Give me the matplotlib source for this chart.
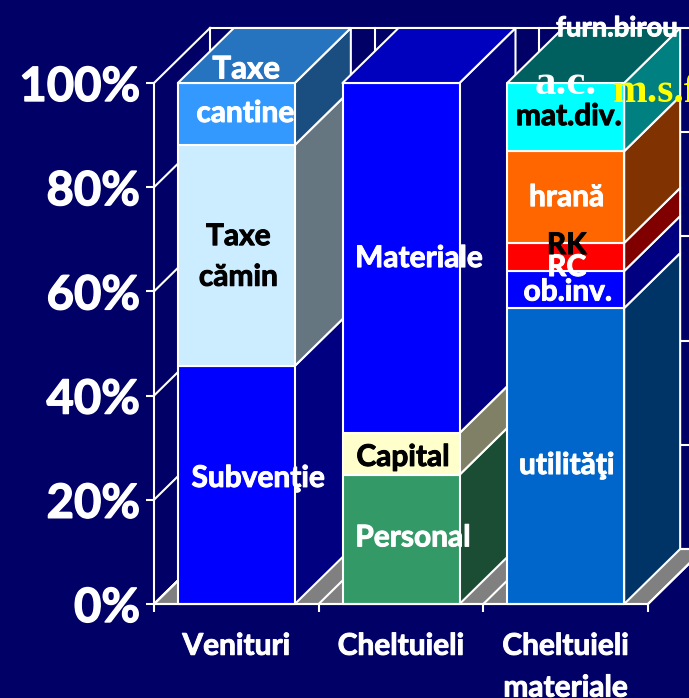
import matplotlib
matplotlib.use("Agg")
import matplotlib.pyplot as plt
from matplotlib.patches import Polygon
from matplotlib.ticker import FuncFormatter
import matplotlib.patheffects as pe

categories = ["Venituri", "Cheltuieli", "Cheltuieli\nmateriale"]
seg_venituri = [45.7, 42.4, 11.9]
seg_cheltuieli = [24.8, 8.0, 67.2]
seg_materiale = [56.8, 7.1, 5.4, 17.6, 13.1]
values = [seg_venituri, seg_cheltuieli, seg_materiale]
front_colors = [["#0000FF", "#CCECFF", "#3399FF"],
                ["#339966", "#FFFFCC", "#0000FF"],
                ["#0066CC", "#0000FF", "#FF0000", "#FF6600", "#00FFFF"]]
top_colors = ["#2673BF", "#0000BF", "#006060"]
seg_labels = [["Subvenţie", "Taxe\ncămin", "cantine"],
              ["Personal", "Capital", "Materiale"],
              ["utilităţi", "ob.inv.", "RC", "hrană", "mat.div."]]
seg_text_colors = [["white", "black", "white"],
                   ["white", "black", "white"],
                   ["white", "white", "white", "white", "black"]]

BG = "#000066"
FONT = "Lato"
plt.rcParams["font.family"] = [FONT, "DejaVu Sans"]
plt.rcParams["font.weight"] = "bold"

W, H = 689, 698
fig = plt.figure(figsize=(W / 100, H / 100), dpi=100, facecolor=BG)
ax = fig.add_axes([154 / W, (H - 604) / H, 494 / W, 521 / H], facecolor="none")
ax.set_xlim(0, 3)
ax.set_ylim(0, 100)

DX = 56 / (494 / 3)
DY = 55 / 5.21
BW = 117 / (494 / 3)
LW = 1.5
FS = 21.5


def darker(c, f=0.5):
    r, g, b = matplotlib.colors.to_rgb(c)
    return (r * f, g * f, b * f)


def poly(pts, color, z=2):
    ax.add_patch(Polygon(pts, closed=True, facecolor=color, edgecolor="white",
                         lw=LW, clip_on=False, zorder=z, joinstyle="round"))


def line(xs, ys, z=1):
    ax.plot(xs, ys, color="white", lw=LW, clip_on=False, zorder=z)


def heavy(col, w=0.7):
    return [pe.withStroke(linewidth=w, foreground=col)]


# floor and walls
poly([(0, 0), (3, 0), (3 + DX, DY), (DX, DY)], "#808080", 1)
ticks_y = [0, 20, 40, 60, 80, 100]
for t in ticks_y:
    line([0, DX], [t, t + DY])
    line([DX, 3 + DX], [t + DY, t + DY])
for c in range(4):
    line([c + DX, c + DX], [DY, 100 + DY])
    line([c, c + DX], [0, DY])

# stacked boxes
for i, segs in enumerate(values):
    x0 = i + 0.5 - BW / 2
    x1 = x0 + BW
    base = 0
    for v, col in zip(segs, front_colors[i]):
        top = base + v
        poly([(x1, base), (x1 + DX, base + DY), (x1 + DX, top + DY), (x1, top)], darker(col), 2 + i)
        poly([(x0, base), (x1, base), (x1, top), (x0, top)], col, 2 + i)
        base = top
    poly([(x0, 100), (x1, 100), (x1 + DX, 100 + DY), (x0 + DX, 100 + DY)], top_colors[i], 2 + i)

# segment labels: nudges in pixels from the segment centre
nudges = [[(22, 7), (2, -1), (9, 1)],
          [(12, 2), (2, -3), (18, 0)],
          [(1, -9), (2, -2), (1, -10), (1, 0), (3, 1)]]
spacing = 1.55
for i, segs in enumerate(values):
    base = 0
    for j, v in enumerate(segs):
        col = seg_text_colors[i][j]
        ax.annotate(seg_labels[i][j], (i + 0.5, base + v / 2), xytext=nudges[i][j],
                    textcoords="offset pixels", ha="center", va="center",
                    color=col, fontsize=FS, fontweight="bold",
                    zorder=10, annotation_clip=False, linespacing=spacing,
                    path_effects=heavy(col))
        base += v

# labels for the thin top items
extra = [("Taxe", 0, 102.6, 10, "white", FS + 1, FONT, "center", "bold"),
         ("RK", 2, 68.9, 1, "black", FS, FONT, "center", "bold"),
         ("furn.birou", 2, 110.5, 51, "white", FS * 0.92, FONT, "center", "bold"),
         ("a.c.", 2, 99.8, 0, "white", 31, "Liberation Serif", "center", "bold"),
         ("m.s.f", 2, 98.3, 47, "#FFFF00", 30, "Liberation Serif", "left", "bold")]
for txt, c, y, dx, col, fs, fam, ha, wt in extra:
    ax.annotate(txt, (c + 0.5, y), xytext=(dx, 0), textcoords="offset pixels",
                ha=ha, va="center", color=col, fontsize=fs, family=fam,
                fontweight=wt, zorder=11, annotation_clip=False,
                path_effects=heavy(col) if fam == FONT else None)

# axes
for s in ("top", "right"):
    ax.spines[s].set_visible(False)
for s in ("left", "bottom"):
    ax.spines[s].set_color("white")
    ax.spines[s].set_linewidth(LW)
    ax.spines[s].set_zorder(20)
ax.set_yticks(ticks_y)
ax.yaxis.set_major_formatter(FuncFormatter(lambda v, _: f"{v:.0f}%"))
ax.tick_params(axis="y", colors="white", length=6, width=LW, pad=4, labelsize=34)
ax.set_xticks([0, 1, 2, 3])
ax.set_xticklabels([])
ax.tick_params(axis="x", which="major", colors="white", length=6, width=LW)
ax.set_xticks([0.5, 1.5, 2.5], minor=True)
ax.set_xticklabels(categories, minor=True)
ax.tick_params(axis="x", which="minor", length=0, colors="white", pad=20, labelsize=FS)
for t in ax.get_xticklabels(minor=True):
    t.set_linespacing(1.6)
    t.set_path_effects(heavy("white"))
for t in ax.get_yticklabels():
    t.set_path_effects(heavy("white", 1.0))

fig.savefig("out.png", dpi=100, facecolor=BG)
